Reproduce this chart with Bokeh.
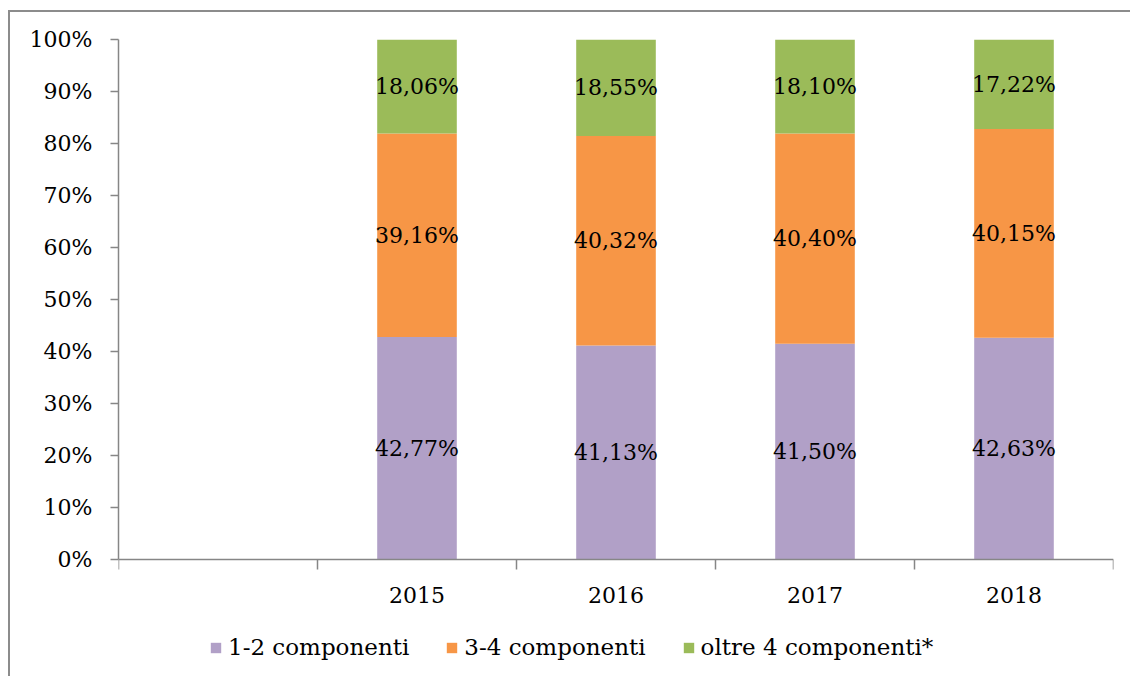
from bokeh.plotting import figure
from bokeh.models import ColumnDataSource, FixedTicker, Legend, LegendItem, Range1d
from bokeh.core.properties import value
from bokeh.embed import file_html
from bokeh.resources import INLINE

# ---- data ----
categories = ["", "2015", "2016", "2017", "2018"]
years = ["2015", "2016", "2017", "2018"]
comp_1_2 = [42.77, 41.13, 41.50, 42.63]
comp_3_4 = [39.16, 40.32, 40.40, 40.15]
comp_oltre4 = [18.06, 18.55, 18.10, 17.22]
series_names = ["1-2 componenti", "3-4 componenti", "oltre 4 componenti*"]
colors = ["#B1A0C7", "#F79646", "#9BBB59"]
y_ticks = [0, 10, 20, 30, 40, 50, 60, 70, 80, 90, 100]

FONT = "DejaVu Serif"

# layout (pixels): plot area 0%..100% spans 520 px; extra room below for axis labels and legend
PLOT_PX = 520
BELOW_PX = 117
y_min = -100.0 * BELOW_PX / PLOT_PX

x_pos = [categories.index(y) for y in years]
src = ColumnDataSource(dict(x=x_pos, s1=comp_1_2, s2=comp_3_4, s3=comp_oltre4))

p = figure(frame_width=995, frame_height=PLOT_PX + BELOW_PX, output_backend="svg",
           toolbar_location=None,
           x_range=Range1d(-0.5, len(categories) - 0.5), y_range=Range1d(y_min, 100),
           min_border_left=108, min_border_top=27, min_border_right=17, min_border_bottom=0,
           margin=(10, 0, 0, 8))
p.outline_line_color = None
p.xgrid.visible = False
p.ygrid.visible = False

renderers = p.vbar_stack(["s1", "s2", "s3"], x="x", width=0.4, color=colors, source=src,
                         line_color=None)

# data labels
def fmt(v):
    return ("%.2f%%" % v).replace(".", ",")

lab_x, lab_y, lab_t = [], [], []
for i, xv in enumerate(x_pos):
    base = 0.0
    for arr in (comp_1_2, comp_3_4, comp_oltre4):
        v = arr[i]
        lab_x.append(xv)
        lab_y.append(base + v / 2.0)
        lab_t.append(fmt(v))
        base += v
p.text(x=lab_x, y=lab_y, text=lab_t, text_font=value(FONT), text_font_size="22px",
       text_align="center", text_baseline="middle", text_color="#000000")

axis_color = "#868686"
# x axis, fixed at the 0% line
xa = p.xaxis[0]
xa.fixed_location = 0
xa.ticker = FixedTicker(ticks=list(range(len(categories))),
                        minor_ticks=[i - 0.5 for i in range(len(categories) + 1)])
xa.major_label_overrides = {i: c for i, c in enumerate(categories)}
xa.major_tick_out = 0
xa.major_tick_in = 0
xa.minor_tick_out = 10
xa.minor_tick_in = 0
xa.minor_tick_line_color = axis_color
xa.minor_tick_line_width = 1.5
xa.axis_line_color = axis_color
xa.axis_line_width = 1.5
xa.major_label_text_font = FONT
xa.major_label_text_font_size = "22px"
xa.major_label_text_color = "#000000"
xa.major_label_standoff = 17

# y axis
ya = p.yaxis[0]
ya.bounds = (0, 100)
ya.ticker = FixedTicker(ticks=y_ticks, minor_ticks=[])
ya.major_label_overrides = {t: "%d%%" % t for t in y_ticks}
ya.major_tick_out = 8
ya.major_tick_in = 0
ya.major_tick_line_color = axis_color
ya.major_tick_line_width = 1.5
ya.axis_line_color = axis_color
ya.axis_line_width = 1.5
ya.major_label_text_font = FONT
ya.major_label_text_font_size = "22px"
ya.major_label_text_color = "#000000"
ya.major_label_standoff = 18

legend = Legend(items=[LegendItem(label=n, renderers=[r]) for n, r in zip(series_names, renderers)],
                orientation="horizontal", location=(91, 16))
legend.label_text_font = FONT
legend.label_text_font_size = "23px"
legend.label_text_color = "#000000"
legend.glyph_width = 13
legend.glyph_height = 13
legend.label_standoff = 6
legend.spacing = 36
legend.border_line_color = None
legend.background_fill_alpha = 0
legend.margin = 0
legend.padding = 8
p.add_layout(legend, "center")

# outer chart-area border (top and left visible in the reference)
p.styles = {"border-left": "2px solid #8c8c8c", "border-top": "2px solid #8c8c8c"}

open("out.html", "w").write(file_html(p, INLINE))
